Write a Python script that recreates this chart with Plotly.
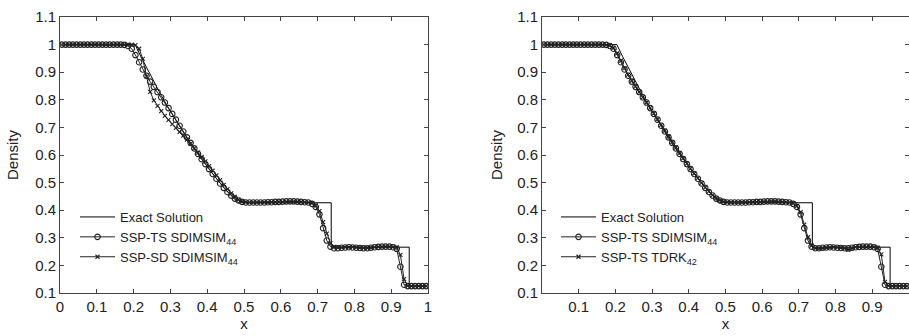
import numpy as np
import plotly.graph_objects as go

# ---------------- data ----------------
x_ticks_left = [0, 0.1, 0.2, 0.3, 0.4, 0.5, 0.6, 0.7, 0.8, 0.9, 1]
x_ticks_right = [0.1, 0.2, 0.3, 0.4, 0.5, 0.6, 0.7, 0.8, 0.9, 1]
y_ticks = [0.1, 0.2, 0.3, 0.4, 0.5, 0.6, 0.7, 0.8, 0.9, 1, 1.1]

# grid (cell centres)
x_grid = np.round(np.linspace(0.005, 0.995, 100), 3)

# exact solution
x_exact = [0.0, 0.204, 0.22, 0.25, 0.275, 0.30, 0.325, 0.35, 0.375, 0.40, 0.425,
           0.45, 0.465, 0.484, 0.737, 0.737, 0.949, 0.949, 1.0]
rho_exact = [1.0, 1.0, 0.956, 0.877, 0.816, 0.758, 0.703, 0.651, 0.603, 0.557, 0.515,
             0.475, 0.452, 0.427, 0.427, 0.266, 0.266, 0.125, 0.125]

# SSP-TS SDIMSIM44 (circles) – same in both panels
rho_ts_sdimsim = [
    1.0, 1.0, 1.0, 1.0, 1.0, 1.0, 1.0, 1.0, 1.0, 1.0,
    1.0, 1.0, 1.0, 1.0, 1.0, 1.0, 1.0, 0.999, 0.995, 0.985,
    0.962, 0.936, 0.910, 0.887, 0.866, 0.847, 0.828, 0.809, 0.790, 0.770,
    0.749, 0.728, 0.706, 0.685, 0.664, 0.644, 0.624, 0.604, 0.585, 0.567,
    0.549, 0.531, 0.514, 0.497, 0.481, 0.466, 0.453, 0.442, 0.435, 0.430,
    0.428, 0.428, 0.428, 0.428, 0.428, 0.428, 0.429, 0.429, 0.430, 0.430,
    0.431, 0.432, 0.432, 0.432, 0.431, 0.430, 0.429, 0.428, 0.423, 0.412,
    0.385, 0.335, 0.290, 0.268, 0.262, 0.262, 0.264, 0.265, 0.266, 0.265,
    0.264, 0.263, 0.262, 0.262, 0.264, 0.266, 0.267, 0.268, 0.268, 0.268,
    0.266, 0.260, 0.195, 0.130, 0.125, 0.125, 0.125, 0.125, 0.125, 0.125,
]

# SSP-SD SDIMSIM44 (crosses, left panel)
rho_sd_sdimsim = [
    1.0, 1.0, 1.0, 1.0, 1.0, 1.0, 1.0, 1.0, 1.0, 1.0,
    1.0, 1.0, 1.0, 1.0, 1.0, 1.0, 1.0, 1.0, 1.0, 1.0,
    0.998, 0.985, 0.948, 0.885, 0.829, 0.798, 0.778, 0.759, 0.742, 0.727,
    0.712, 0.698, 0.684, 0.670, 0.656, 0.641, 0.625, 0.609, 0.593, 0.577,
    0.560, 0.543, 0.526, 0.509, 0.492, 0.476, 0.461, 0.448, 0.438, 0.432,
    0.429, 0.428, 0.428, 0.428, 0.428, 0.428, 0.428, 0.429, 0.429, 0.430,
    0.430, 0.431, 0.431, 0.431, 0.431, 0.430, 0.429, 0.428, 0.426, 0.417,
    0.397, 0.357, 0.315, 0.280, 0.267, 0.265, 0.265, 0.266, 0.266, 0.266,
    0.265, 0.264, 0.263, 0.263, 0.264, 0.266, 0.267, 0.267, 0.268, 0.268,
    0.267, 0.265, 0.238, 0.150, 0.126, 0.125, 0.125, 0.125, 0.125, 0.125,
]

# SSP-TS TDRK42 (crosses, right panel)
rho_ts_tdrk = [
    1.0, 1.0, 1.0, 1.0, 1.0, 1.0, 1.0, 1.0, 1.0, 1.0,
    1.0, 1.0, 1.0, 1.0, 1.0, 1.0, 1.0, 0.999, 0.996, 0.988,
    0.968, 0.942, 0.915, 0.891, 0.869, 0.849, 0.829, 0.810, 0.791, 0.771,
    0.751, 0.730, 0.709, 0.688, 0.667, 0.647, 0.627, 0.607, 0.588, 0.569,
    0.551, 0.533, 0.516, 0.499, 0.483, 0.468, 0.455, 0.444, 0.436, 0.431,
    0.429, 0.428, 0.428, 0.428, 0.428, 0.428, 0.429, 0.429, 0.430, 0.430,
    0.431, 0.431, 0.432, 0.432, 0.431, 0.430, 0.429, 0.428, 0.425, 0.416,
    0.393, 0.348, 0.302, 0.272, 0.262, 0.261, 0.262, 0.264, 0.265, 0.266,
    0.265, 0.264, 0.262, 0.256, 0.262, 0.266, 0.267, 0.267, 0.267, 0.267,
    0.267, 0.264, 0.240, 0.140, 0.126, 0.125, 0.125, 0.125, 0.125, 0.125,
]

# ---------------- figure ----------------
FONT = "Liberation Sans, Arial, sans-serif"
INK = "#222222"
FRAME = "#444444"
MARK = "#222222"

fig = go.Figure()

def add_panel(xa, ya, legend, name2, rho2):
    fig.add_trace(go.Scatter(
        x=x_exact, y=rho_exact, mode="lines", name="Exact Solution",
        line=dict(color="black", width=1), xaxis=xa, yaxis=ya, legend=legend))
    fig.add_trace(go.Scatter(
        x=x_grid, y=rho_ts_sdimsim, mode="lines+markers",
        name="SSP-TS SDIMSIM<sub>44</sub>",
        line=dict(color=MARK, width=1),
        marker=dict(symbol="circle-open", size=5.5, color=MARK,
                    line=dict(width=1.1, color=MARK)),
        xaxis=xa, yaxis=ya, legend=legend))
    fig.add_trace(go.Scatter(
        x=x_grid, y=rho2, mode="lines+markers", name=name2,
        line=dict(color=MARK, width=1),
        marker=dict(symbol="x-thin", size=4, color=MARK,
                    line=dict(width=1.1, color=MARK)),
        xaxis=xa, yaxis=ya, legend=legend))

add_panel("x", "y", "legend", "SSP-SD SDIMSIM<sub>44</sub>", rho_sd_sdimsim)
add_panel("x2", "y2", "legend2", "SSP-TS TDRK<sub>42</sub>", rho_ts_tdrk)

L, R, T, B = 60, 0, 17, 43
W, H = 909, 336
pw = W - L - R
ph = H - T - B

def px2paper(px):
    return (px - L) / pw

def py2paper(py):
    return 1 - (py - T) / ph

axis_common = dict(
    showgrid=False, zeroline=False, showline=True, linecolor=FRAME, linewidth=1,
    mirror="ticks", ticks="inside", ticklen=4, tickcolor=FRAME, tickwidth=1,
    tickfont=dict(family=FONT, size=15, color=INK), automargin=False,
)

legend_common = dict(
    font=dict(family=FONT, size=13, color=INK), bgcolor="rgba(0,0,0,0)",
    borderwidth=0, itemwidth=35, xanchor="left", yanchor="top", tracegroupgap=0,
)

fig.update_layout(
    width=W, height=H,
    margin=dict(l=L, r=R, t=T, b=B, autoexpand=False),
    plot_bgcolor="white", paper_bgcolor="white",
    showlegend=True,
    xaxis=dict(domain=[0, px2paper(428)], range=[0, 1], tickvals=x_ticks_left,
               ticktext=[f"{v:g}" for v in x_ticks_left],
               title=dict(text="x", font=dict(family=FONT, size=15, color=INK), standoff=2),
               anchor="y", **axis_common),
    yaxis=dict(domain=[0, 1], range=[0.1, 1.1], tickvals=y_ticks,
               ticktext=[f"{v:g}" for v in y_ticks],
               title=dict(text="Density", font=dict(family=FONT, size=15, color=INK), standoff=12),
               anchor="x", **axis_common),
    xaxis2=dict(domain=[px2paper(542), 1], range=[0, 1.0005], tickvals=x_ticks_right,
                ticktext=[f"{v:g}" for v in x_ticks_right],
                title=dict(text="x", font=dict(family=FONT, size=15, color=INK), standoff=2),
                anchor="y2", **axis_common),
    yaxis2=dict(domain=[0, 1], range=[0.1, 1.1], tickvals=y_ticks,
                ticktext=[f"{v:g}" for v in y_ticks],
                title=dict(text="Density", font=dict(family=FONT, size=15, color=INK), standoff=10),
                anchor="x2", **axis_common),
    legend=dict(x=px2paper(75), y=py2paper(202), **legend_common),
    legend2=dict(x=px2paper(556), y=py2paper(202), **legend_common),
)

fig.write_html("out.html", config={"displayModeBar": False},
               post_script="document.body.style.margin='0';document.body.style.overflow='hidden';")
